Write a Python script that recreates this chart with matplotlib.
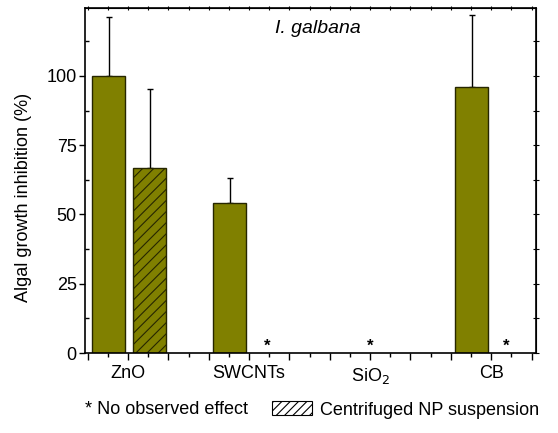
import numpy as np
import matplotlib
matplotlib.use("Agg")
import matplotlib.pyplot as plt
from matplotlib.patches import Patch
from matplotlib.ticker import FixedLocator, MultipleLocator

plt.rcParams['font.family'] = ['Liberation Sans', 'DejaVu Sans']
plt.rcParams['hatch.linewidth'] = 0.8

# Growth inhibition of I. galbana (%), mean and upper error
categories = ['ZnO', 'SWCNTs', 'SiO$_2$', 'CB']
raw_mean = [99.8, 54.0, np.nan, 96.1]
raw_err = [21.3, 9.2, np.nan, 25.9]
centrifuged_mean = [66.6, np.nan, np.nan, np.nan]
centrifuged_err = [28.5, np.nan, np.nan, np.nan]
# "*" = no observed effect: (category index, offset from the category centre)
no_effect = [(1, 0.15), (2, 0.0), (3, 0.12)]

olive = '#808000'
edge = '#262600'
fs = 13

fig = plt.figure(figsize=(5.58, 4.33), dpi=100)
ax = fig.add_axes([85 / 558, 80 / 433, 451 / 558, 345 / 433])

x = np.arange(1, len(categories) + 1)
width = 0.27

ax.bar(x - 0.16, raw_mean, width, color=olive, edgecolor=edge, linewidth=1, zorder=2)
ax.errorbar(x - 0.16, raw_mean, yerr=[np.zeros(len(x)), raw_err], fmt='none',
            ecolor='black', elinewidth=1, capsize=2.5, capthick=1, zorder=1)

ax.bar(x + 0.178, centrifuged_mean, width, color=olive, edgecolor=edge,
       linewidth=1, hatch='///', zorder=2)
ax.errorbar(x + 0.178, centrifuged_mean, yerr=[np.zeros(len(x)), centrifuged_err],
            fmt='none', ecolor='black', elinewidth=1, capsize=2.5, capthick=1, zorder=1)

for i, off in no_effect:
    ax.annotate('*', (x[i] + off, 0), xytext=(0, 4.5), textcoords='offset points',
                ha='center', va='center', fontsize=12, fontweight='bold')

ax.set_xlim(0.645, 4.37)
ax.set_ylim(0, 124.5)

# x ticks every third of a category, labels only at the categories
pos = np.arange(2, 14) / 3
ax.xaxis.set_major_locator(FixedLocator(pos))
ax.set_xticklabels([categories[int(round(p)) - 1] if abs(p - round(p)) < 1e-6 else ''
                    for p in pos])
ax.xaxis.set_minor_locator(MultipleLocator(1 / 6))
ax.set_yticks([0, 25, 50, 75, 100])
ax.yaxis.set_minor_locator(MultipleLocator(12.5))

ax.tick_params(axis='x', which='major', direction='out', length=5, width=1, labelsize=fs, pad=4)
ax.tick_params(axis='x', which='minor', direction='out', length=3, width=1)
ax.tick_params(axis='y', which='major', direction='out', length=4, width=1, labelsize=fs, pad=2)
ax.tick_params(axis='y', which='minor', direction='in', length=3, width=1)
for s in ax.spines.values():
    s.set_linewidth(1.2)

# small crossing ticks on the top and right frame
top = ax.secondary_xaxis('top')
top.xaxis.set_major_locator(MultipleLocator(1 / 6))
top.tick_params(direction='inout', length=3, width=0.8, labeltop=False)
right = ax.secondary_yaxis('right')
right.yaxis.set_major_locator(MultipleLocator(12.5))
right.tick_params(direction='inout', length=4, width=0.8, labelright=False)

ax.set_ylabel('Algal growth inhibition (%)', fontsize=fs)
ax.yaxis.set_label_coords(-0.117, 0.45)
ax.text(0.517, 0.94, 'I. galbana', transform=ax.transAxes, ha='center', va='center',
        fontsize=14, fontstyle='italic')

fig.text(85 / 558, 1 - 410 / 433, '* No observed effect', fontsize=fs, va='center')
fig.legend(handles=[Patch(facecolor='white', edgecolor='black', hatch='////', linewidth=0.8)],
           labels=['Centrifuged NP suspension'], loc='center left',
           bbox_to_anchor=(272 / 558, 1 - 410 / 433), frameon=False, fontsize=fs,
           handlelength=40 / 18.06, handleheight=15 / 18.06, handletextpad=0.45,
           borderpad=0, borderaxespad=0)

fig.savefig('out.png', dpi=100)
